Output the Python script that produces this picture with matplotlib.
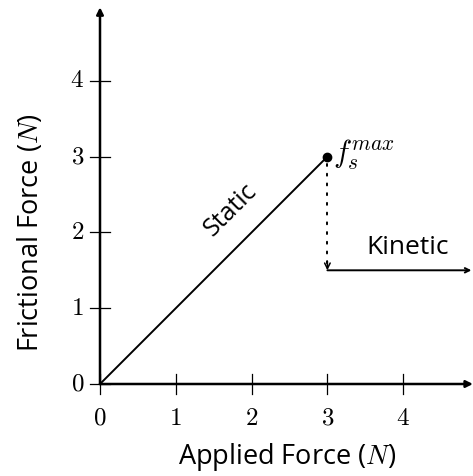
import matplotlib.pyplot as plt

plt.rcParams['mathtext.fontset'] = 'cm'
plt.rcParams['font.family'] = ['Open Sans', 'DejaVu Sans']

# data
static_x = [0, 3]
static_y = [0, 3]
fs_max = (3, 3)
kinetic_level = 1.5
kinetic_end = 4.9
x_ticks = [0, 1, 2, 3, 4]
y_ticks = [0, 1, 2, 3, 4]

fig = plt.figure(figsize=(4.73, 4.76), dpi=100)
ax = fig.add_axes([0, 0, 1, 1])
ax.set_xlim(-100 / 75.8, 373 / 75.8)
ax.set_ylim(-92 / 75.8, 384 / 75.8)
ax.axis('off')

# axes with arrows
ax.annotate('', xy=(4.92, 0), xytext=(0, 0),
            arrowprops=dict(arrowstyle='-|>', color='black', lw=1.8, mutation_scale=10, shrinkA=0, shrinkB=0))
ax.annotate('', xy=(0, 4.97), xytext=(0, 0),
            arrowprops=dict(arrowstyle='-|>', color='black', lw=1.8, mutation_scale=10, shrinkA=0, shrinkB=0))

# ticks crossing the axes
tl = 0.13
for t in x_ticks:
    ax.plot([t, t], [-tl, tl], color='black', lw=0.9)
    ax.text(t, -0.45, f'${t}$', ha='center', va='center', fontsize=18)
for t in y_ticks:
    ax.plot([-tl, tl], [t, t], color='black', lw=0.9)
    ax.text(-0.3, t, f'${t}$', ha='center', va='center', fontsize=18)

# static friction line
ax.plot(static_x, static_y, color='black', lw=1.4)
ax.plot(*fs_max, 'o', color='black', ms=6)
ax.text(3.08, 3.03, r'$f_s^{max}$', fontsize=22, ha='left', va='center')
ax.text(1.73, 2.3, 'Static', rotation=45, ha='center', va='center', fontsize=18)

# drop to kinetic: dotted line plus a small open arrow head
ax.plot([fs_max[0], fs_max[0]], [fs_max[1] - 0.1, kinetic_level + 0.02], color='black',
        lw=1.4, linestyle=(0, (1, 4)), dash_capstyle='round')
ax.annotate('', xy=(3, kinetic_level), xytext=(3, kinetic_level + 0.12),
            arrowprops=dict(arrowstyle='->', color='black', lw=1.1, mutation_scale=10, shrinkA=0, shrinkB=0))
ax.annotate('', xy=(kinetic_end, kinetic_level), xytext=(3, kinetic_level),
            arrowprops=dict(arrowstyle='->', color='black', lw=1.4, mutation_scale=8, shrinkA=0, shrinkB=0))
ax.text(4.06, 1.8, 'Kinetic', ha='center', va='center', fontsize=19)

# axis labels
ax.text(2.47, -0.96, r'Applied Force ($N$)', ha='center', va='center', fontsize=19.5)
ax.text(-0.92, 2.0, r'Frictional Force ($N$)', ha='center', va='center', rotation=90, fontsize=19.5)

fig.savefig('out.png', dpi=100)
